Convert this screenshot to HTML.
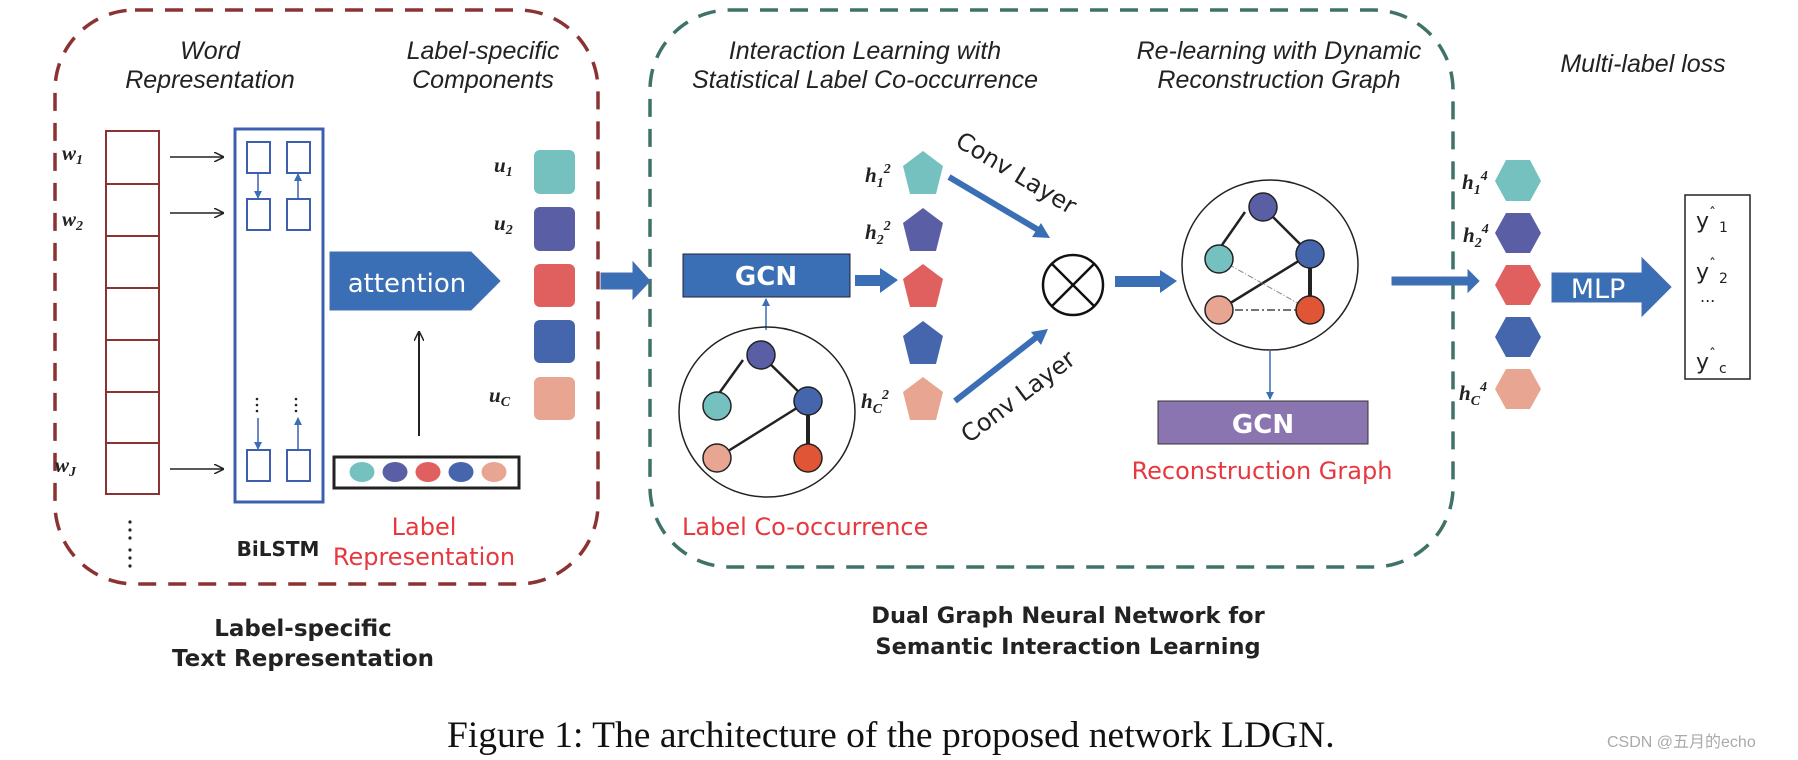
<!DOCTYPE html>
<html><head><meta charset="utf-8"><style>
html,body{margin:0;padding:0;background:#fff;}
svg{display:block;}
.it{font-family:"Liberation Sans",sans-serif;font-style:italic;font-size:25px;fill:#222;}
.bd{font-family:"DejaVu Sans","Liberation Sans",sans-serif;font-weight:bold;fill:#222;}
.rd{font-family:"DejaVu Sans","Liberation Sans",sans-serif;fill:#e5393f;font-size:24px;}
.mth{font-family:"Liberation Serif",serif;font-style:italic;font-weight:bold;font-size:21px;fill:#222;}
.sub{font-size:14px;}
</style></head><body>
<svg width="1798" height="760" viewBox="0 0 1798 760" xmlns="http://www.w3.org/2000/svg">
<defs>
<marker id="ah" markerWidth="10" markerHeight="10" refX="9" refY="5" orient="auto" markerUnits="userSpaceOnUse"><path d="M0,0 L10,5 L0,10" fill="none" stroke="#222" stroke-width="1.5"/></marker>
<marker id="bh" markerWidth="8" markerHeight="8" refX="7" refY="4" orient="auto" markerUnits="userSpaceOnUse"><path d="M0,0 L8,4 L0,8 Z" fill="#3a6fb5"/></marker>
</defs>
<rect x="55" y="10" width="543" height="574" rx="80" fill="none" stroke="#8b3232" stroke-width="3.5" stroke-dasharray="18,12"/>
<rect x="650" y="10" width="803" height="557" rx="80" fill="none" stroke="#3f7268" stroke-width="3.5" stroke-dasharray="18,12"/>

<text class="it" x="210" y="59" text-anchor="middle">Word</text>
<text class="it" x="210" y="88" text-anchor="middle">Representation</text>
<text class="it" x="483" y="59" text-anchor="middle">Label-specific</text>
<text class="it" x="483" y="88" text-anchor="middle">Components</text>

<g stroke="#8b3232" stroke-width="2" fill="none">
<rect x="106" y="131" width="53" height="363"/>
<line x1="106" y1="184" x2="159" y2="184"/><line x1="106" y1="236" x2="159" y2="236"/>
<line x1="106" y1="288" x2="159" y2="288"/><line x1="106" y1="340" x2="159" y2="340"/>
<line x1="106" y1="392" x2="159" y2="392"/><line x1="106" y1="443" x2="159" y2="443"/>
</g>
<g fill="#222"><circle cx="130" cy="522" r="1.6"/><circle cx="130" cy="530" r="1.6"/><circle cx="130" cy="538" r="1.6"/><circle cx="130" cy="550" r="1.6"/><circle cx="130" cy="558" r="1.6"/><circle cx="130" cy="566" r="1.6"/></g>
<text class="mth" x="62" y="160">w<tspan class="sub" dy="4">1</tspan></text>
<text class="mth" x="62" y="226">w<tspan class="sub" dy="4">2</tspan></text>
<text class="mth" x="55" y="472">w<tspan class="sub" dy="4">J</tspan></text>
<g stroke="#222" stroke-width="1.5" marker-end="url(#ah)">
<line x1="170" y1="157" x2="223" y2="157"/><line x1="170" y1="213" x2="223" y2="213"/><line x1="170" y1="469" x2="223" y2="469"/>
</g>

<rect x="235" y="129" width="88" height="373" fill="none" stroke="#3d5fb0" stroke-width="3"/>
<g fill="none" stroke="#3d5fb0" stroke-width="2">
<rect x="247" y="142" width="23" height="31"/><rect x="287" y="142" width="23" height="31"/>
<rect x="247" y="199" width="23" height="31"/><rect x="287" y="199" width="23" height="31"/>
<rect x="247" y="450" width="23" height="31"/><rect x="287" y="450" width="23" height="31"/>
</g>
<g stroke="#3d5fb0" stroke-width="1.5" marker-end="url(#bh)">
<line x1="258" y1="173" x2="258" y2="198"/><line x1="298" y1="199" x2="298" y2="174"/>
<line x1="258" y1="418" x2="258" y2="449"/><line x1="298" y1="449" x2="298" y2="418"/>
</g>
<g fill="#222"><circle cx="257" cy="399" r="1.3"/><circle cx="257" cy="405" r="1.3"/><circle cx="257" cy="411" r="1.3"/><circle cx="296" cy="399" r="1.3"/><circle cx="296" cy="405" r="1.3"/><circle cx="296" cy="411" r="1.3"/></g>
<text class="bd" x="278" y="556" font-size="20" text-anchor="middle">BiLSTM</text>

<polygon points="330,252 471,252 500,281 471,310 330,310" fill="#3a6fb5" stroke="#4a6db0"/>
<text x="407" y="292" font-family="DejaVu Sans, Liberation Sans, sans-serif" font-size="26" fill="#fff" text-anchor="middle">attention</text>
<line x1="419" y1="436" x2="419" y2="332" stroke="#222" stroke-width="2" marker-end="url(#ah)"/>
<rect x="334" y="457" width="185" height="31" fill="none" stroke="#222" stroke-width="3"/>
<ellipse cx="362" cy="472" rx="12.5" ry="10" fill="#74c1c0"/>
<ellipse cx="395" cy="472" rx="12.5" ry="10" fill="#5a5ea5"/>
<ellipse cx="428" cy="472" rx="12.5" ry="10" fill="#e06060"/>
<ellipse cx="461" cy="472" rx="12.5" ry="10" fill="#4566ad"/>
<ellipse cx="494" cy="472" rx="12.5" ry="10" fill="#e8a591"/>
<text class="rd" x="424" y="535" text-anchor="middle">Label</text>
<text class="rd" x="424" y="565" text-anchor="middle">Representation</text>

<rect x="534" y="150" width="41" height="44" rx="6" fill="#74c1c0"/>
<rect x="534" y="207" width="41" height="44" rx="6" fill="#5a5ea5"/>
<rect x="534" y="264" width="41" height="43" rx="6" fill="#e06060"/>
<rect x="534" y="320" width="41" height="43" rx="6" fill="#4566ad"/>
<rect x="534" y="377" width="41" height="43" rx="6" fill="#e8a591"/>
<text class="mth" x="494" y="172">u<tspan class="sub" dy="4">1</tspan></text>
<text class="mth" x="494" y="230">u<tspan class="sub" dy="4">2</tspan></text>
<text class="mth" x="489" y="402">u<tspan class="sub" dy="4">C</tspan></text>

<polygon points="601,273 633,273 633,262 650,281 633,299 633,289 601,289" fill="#3a6fb5" stroke="#4a6db0"/>

<text class="bd" x="303" y="636" font-size="23" text-anchor="middle">Label-specific</text>
<text class="bd" x="303" y="666" font-size="23" text-anchor="middle">Text Representation</text>

<text class="it" x="865" y="59" text-anchor="middle">Interaction  Learning with</text>
<text class="it" x="865" y="88" text-anchor="middle">Statistical Label Co-occurrence</text>
<text class="it" x="1279" y="59" text-anchor="middle">Re-learning with Dynamic</text>
<text class="it" x="1279" y="88" text-anchor="middle">Reconstruction Graph</text>

<rect x="683" y="254" width="167" height="43" fill="#3a6fb5" stroke="#223" stroke-width="1"/>
<text class="bd" x="766" y="285" font-size="26" text-anchor="middle" style="fill:#fff">GCN</text>
<polygon points="855,275 880,275 880,268 898,280 880,293 880,286 855,286" fill="#3a6fb5"/>
<line x1="766" y1="330" x2="766" y2="299" stroke="#3a6fb5" stroke-width="1.5" marker-end="url(#bh)"/>

<ellipse cx="767" cy="412" rx="88" ry="85" fill="none" stroke="#222" stroke-width="1.5"/>
<g stroke="#222" stroke-width="2.5">
<line x1="743" y1="360" x2="720" y2="392"/><line x1="761" y1="355" x2="808" y2="401"/>
<line x1="808" y1="401" x2="717" y2="458"/><line x1="808" y1="401" x2="808" y2="458" stroke-width="4"/>
</g>
<g stroke="#222" stroke-width="1.5">
<ellipse cx="761" cy="355" rx="14" ry="14" fill="#5a5ea5"/>
<ellipse cx="717" cy="406" rx="14" ry="14" fill="#74c1c0"/>
<ellipse cx="808" cy="401" rx="14" ry="14" fill="#4566ad"/>
<ellipse cx="717" cy="458" rx="14" ry="14" fill="#e8a591"/>
<ellipse cx="808" cy="458" rx="14" ry="14" fill="#e05535"/>
</g>
<text class="rd" x="682" y="535">Label Co-occurrence</text>

<polygon points="923,151 943,166 936,194 910,194 903,166" fill="#74c1c0"/>
<polygon points="923,208 943,223 936,251 910,251 903,223" fill="#5a5ea5"/>
<polygon points="923,264 943,279 936,307 910,307 903,279" fill="#e06060"/>
<polygon points="923,321 943,336 936,364 910,364 903,336" fill="#4566ad"/>
<polygon points="923,377 943,392 936,420 910,420 903,392" fill="#e8a591"/>
<text class="mth" x="865" y="182">h<tspan class="sub" dy="5">1</tspan><tspan class="sub" dy="-14">2</tspan></text>
<text class="mth" x="865" y="239">h<tspan class="sub" dy="5">2</tspan><tspan class="sub" dy="-14">2</tspan></text>
<text class="mth" x="861" y="408">h<tspan class="sub" dy="5">C</tspan><tspan class="sub" dy="-14">2</tspan></text>

<line x1="949" y1="177" x2="1040" y2="231" stroke="#3a6fb5" stroke-width="6"/>
<polygon points="1050,238 1032,237 1041,223" fill="#3a6fb5"/>
<line x1="955" y1="401" x2="1038" y2="336" stroke="#3a6fb5" stroke-width="6"/>
<polygon points="1048,329 1041,345 1031,332" fill="#3a6fb5"/>
<text x="0" y="0" font-family="DejaVu Sans, Liberation Sans, sans-serif" font-size="24" fill="#222" text-anchor="middle" transform="translate(1012,180) rotate(31)">Conv Layer</text>
<text x="0" y="0" font-family="DejaVu Sans, Liberation Sans, sans-serif" font-size="24" fill="#222" text-anchor="middle" transform="translate(1023,403) rotate(-37)">Conv Layer</text>

<circle cx="1073" cy="285" r="30" fill="none" stroke="#111" stroke-width="2.5"/>
<line x1="1052" y1="264" x2="1094" y2="306" stroke="#111" stroke-width="2.5"/>
<line x1="1094" y1="264" x2="1052" y2="306" stroke="#111" stroke-width="2.5"/>
<polygon points="1115,276 1160,276 1160,270 1177,281 1160,293 1160,287 1115,287" fill="#3a6fb5"/>

<ellipse cx="1270" cy="265" rx="88" ry="85" fill="none" stroke="#222" stroke-width="1.5"/>
<g stroke="#222" stroke-width="2.5">
<line x1="1245" y1="212" x2="1222" y2="245"/><line x1="1263" y1="207" x2="1310" y2="254"/>
<line x1="1310" y1="254" x2="1219" y2="310"/><line x1="1310" y1="254" x2="1310" y2="310" stroke-width="4"/>
</g>
<line x1="1219" y1="259" x2="1310" y2="310" stroke="#888" stroke-width="1" stroke-dasharray="6,2,1,2"/>
<line x1="1219" y1="310" x2="1310" y2="310" stroke="#222" stroke-width="1.2" stroke-dasharray="8,3,2,3"/>
<g stroke="#222" stroke-width="1.5">
<circle cx="1263" cy="207" r="14" fill="#5a5ea5"/>
<circle cx="1219" cy="259" r="14" fill="#74c1c0"/>
<circle cx="1310" cy="254" r="14" fill="#4566ad"/>
<circle cx="1219" cy="310" r="14" fill="#e8a591"/>
<circle cx="1310" cy="310" r="14" fill="#e05535"/>
</g>
<line x1="1270" y1="350" x2="1270" y2="399" stroke="#3a6fb5" stroke-width="1.5" marker-end="url(#bh)"/>
<rect x="1158" y="401" width="210" height="43" fill="#8b75b0" stroke="#333" stroke-width="1"/>
<text class="bd" x="1263" y="433" font-size="26" text-anchor="middle" style="fill:#fff">GCN</text>
<text class="rd" x="1262" y="479" text-anchor="middle">Reconstruction Graph</text>

<text class="bd" x="1068" y="623" font-size="22.5" text-anchor="middle">Dual Graph Neural Network for</text>
<text class="bd" x="1068" y="654" font-size="22.5" text-anchor="middle">Semantic Interaction Learning</text>

<text class="it" x="1643" y="72" text-anchor="middle">Multi-label loss</text>
<polygon points="1392,277 1468,277 1468,270 1479,281 1468,292 1468,285 1392,285" fill="#3a6fb5" stroke="#4a6db0"/>
<polygon points="1506,160 1530,160 1541,181 1530,201 1506,201 1495,181" fill="#74c1c0"/>
<polygon points="1506,213 1530,213 1541,233 1530,253 1506,253 1495,233" fill="#5a5ea5"/>
<polygon points="1506,265 1530,265 1541,285 1530,305 1506,305 1495,285" fill="#e06060"/>
<polygon points="1506,317 1530,317 1541,337 1530,357 1506,357 1495,337" fill="#4566ad"/>
<polygon points="1506,369 1530,369 1541,389 1530,409 1506,409 1495,389" fill="#e8a591"/>
<text class="mth" x="1462" y="189">h<tspan class="sub" dy="5">1</tspan><tspan class="sub" dy="-14">4</tspan></text>
<text class="mth" x="1463" y="242">h<tspan class="sub" dy="5">2</tspan><tspan class="sub" dy="-14">4</tspan></text>
<text class="mth" x="1459" y="400">h<tspan class="sub" dy="5">C</tspan><tspan class="sub" dy="-14">4</tspan></text>

<polygon points="1552,273 1642,273 1642,258 1671,287 1642,316 1642,302 1552,302" fill="#3a6fb5" stroke="#4a6db0"/>
<text x="1598" y="298" font-family="DejaVu Sans, Liberation Sans, sans-serif" font-size="27" fill="#fff" text-anchor="middle">MLP</text>

<rect x="1685" y="195" width="65" height="184" fill="none" stroke="#222" stroke-width="1.5"/>
<g font-family="DejaVu Sans, Liberation Sans, sans-serif" fill="#222">
<text x="1696" y="228" font-size="22">y<tspan font-size="14" dy="-10">ˆ</tspan><tspan font-size="14" dy="14" dx="3">1</tspan></text>
<text x="1696" y="279" font-size="22">y<tspan font-size="14" dy="-10">ˆ</tspan><tspan font-size="14" dy="14" dx="3">2</tspan></text>
<text x="1700" y="302" font-size="16">...</text>
<text x="1696" y="369" font-size="22">y<tspan font-size="14" dy="-10">ˆ</tspan><tspan font-size="14" dy="14" dx="3">c</tspan></text>
</g>

<text x="447" y="747" font-family="Liberation Serif, serif" font-size="37.5" fill="#111">Figure 1: The architecture of the proposed network LDGN.</text>
<text x="1607" y="747" font-family="Liberation Sans, Noto Sans CJK SC, sans-serif" font-size="16" fill="#aaa">CSDN @五月的echo</text>
</svg>
</body></html>
